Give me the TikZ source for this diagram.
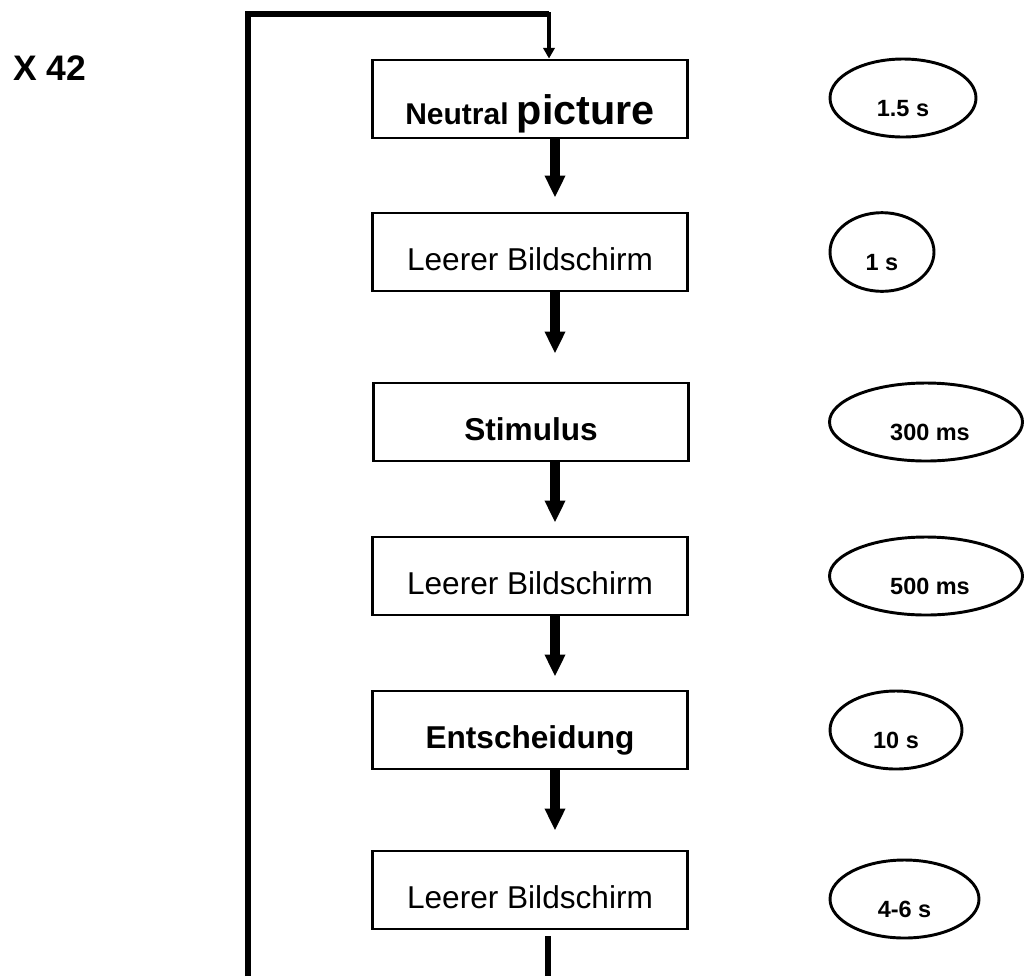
\documentclass[tikz,border=0pt]{standalone}
\usepackage{fontspec}
\setmainfont{Liberation Sans}
\usetikzlibrary{shapes.geometric,arrows.meta}
\begin{document}
\begin{tikzpicture}[x=0.75pt,y=-0.75pt,
  stepbox/.style={draw,line width=2.2pt,rectangle,minimum width=236pt,minimum height=58.5pt,
    inner sep=0pt,text height=27pt,text depth=0pt,font=\fontsize{23.7}{28}\selectfont},
  timebox/.style={draw,line width=2.2pt,ellipse,minimum height=58.5pt,
    inner sep=0pt,text height=27pt,text depth=0pt,font=\fontsize{17.6}{20}\selectfont\bfseries},
  bigarrow/.style={line width=7.5pt,-{Triangle[width=14.5pt,length=16.5pt]}},
  loopline/.style={line width=3.8pt},
  looparrow/.style={line width=3.2pt,-{Triangle[width=8.5pt,length=8pt]}}
]
\useasboundingbox (0,0) rectangle (1024,976);

\node[anchor=base west,inner sep=0pt,font=\fontsize{26.6}{30}\selectfont\bfseries] (title) at (13,80) {X 42};

\node[stepbox,text height=37.5pt] (b1) at (530,99) {\bfseries\fontsize{22.5}{26}\selectfont Neutral {\fontsize{31}{34}\selectfont picture}};
\node[stepbox] (b2) at (530,252) {Leerer Bildschirm};
\node[stepbox,font=\fontsize{23.7}{28}\selectfont\bfseries] (b3) at (531,422) {Stimulus};
\node[stepbox] (b4) at (530,576) {Leerer Bildschirm};
\node[stepbox,font=\fontsize{23.7}{28}\selectfont\bfseries] (b5) at (530,730) {Entscheidung};
\node[stepbox] (b6) at (530,890) {Leerer Bildschirm};

\node[timebox,minimum width=109.5pt] (e1) at (903,98) {1.5 s};
\node[timebox,minimum width=78pt,minimum height=59pt] (e2) at (882,252) {1 s};
\node[timebox,minimum width=144.75pt] (e3) at (926,422) {\hspace*{6pt}300 ms};
\node[timebox,minimum width=144.75pt] (e4) at (926,576) {\hspace*{6pt}500 ms};
\node[timebox,minimum width=99pt] (e5) at (896,730) {10 s};
\node[timebox,minimum width=111.75pt] (e6) at (904.5,899) {4-6 s};

\coordinate (ax) at (555,0);
\draw[bigarrow,shorten >=10.5pt] (b1.south -| ax) -- (b2.north -| ax);
\draw[bigarrow,shorten >=21pt] (b2.south -| ax) -- (b3.north -| ax);
\draw[bigarrow,shorten >=9.75pt] (b3.south -| ax) -- (b4.north -| ax);
\draw[bigarrow,shorten >=9.75pt] (b4.south -| ax) -- (b5.north -| ax);
\draw[bigarrow,shorten >=14.25pt] (b5.south -| ax) -- (b6.north -| ax);

\coordinate (bx) at (548,976);
\draw[line width=5pt] ([yshift=-4.5pt]b6.south -| bx) -- (bx);

\coordinate (lb) at (248,976);
\coordinate (tr) at (549,14);
\draw[loopline] (lb) |- (tr);
\draw[looparrow] ([yshift=1.3pt]tr) -- (b1.north -| tr);
\end{tikzpicture}
\end{document}
